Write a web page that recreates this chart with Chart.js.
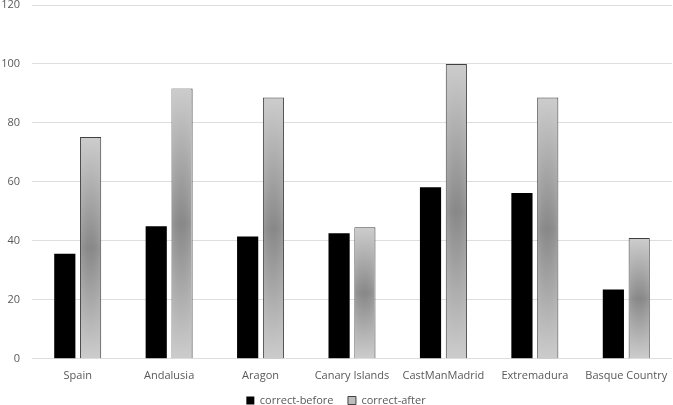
<!DOCTYPE html>
<html>
<head>
<meta charset="utf-8">
<script src="https://cdn.jsdelivr.net/npm/chart.js@4/dist/chart.umd.min.js"></script>
<style>
  html, body { margin: 0; padding: 0; background: #fff; }
  #wrap { width: 673px; height: 405px; }
</style>
</head>
<body>
<div id="wrap"><canvas id="chart"></canvas></div>
<script>
// данные
const regions = ['Spain', 'Andalusia', 'Aragon', 'Canary Islands', 'CastManMadrid', 'Extremadura', 'Basque Country'];
const correctBefore = [35.6, 45.0, 41.5, 42.6, 58.2, 56.2, 23.5];
const correctAfter  = [75.2, 91.7, 88.6, 44.6, 100, 88.6, 41.0];
const yTicks = [0, 20, 40, 60, 80, 100, 120];

const FONT = 'Open Sans';
const TEXT = '#595959';

// заливка "от центра к краям" для серых столбиков, как в Excel
function pathGradientImage(w, h) {
  const off = document.createElement('canvas');
  off.width = w; off.height = h;
  const g = off.getContext('2d');
  const img = g.createImageData(w, h);
  const edge = 204, center = 136;
  for (let j = 0; j < h; j++) {
    const dy = Math.abs(j + 0.5 - h / 2) / (h / 2);
    for (let i = 0; i < w; i++) {
      const dx = Math.abs(i + 0.5 - w / 2) / (w / 2);
      const t = Math.min(1, dy + 0.22 * dx * dx * (1 - dy));
      const v = Math.round(center + (edge - center) * t);
      const k = (j * w + i) * 4;
      img.data[k] = v; img.data[k + 1] = v; img.data[k + 2] = v; img.data[k + 3] = 255;
    }
  }
  g.putImageData(img, 0, 0);
  return off;
}

const shadePlugin = {
  id: 'shadeAfter',
  afterDatasetDraw(chart, args) {
    if (args.index !== 1) return;
    const bw = 1;
    const ctx = chart.ctx;
    args.meta.data.forEach(el => {
      const { x, y, base, width } = el.getProps(['x', 'y', 'base', 'width'], true);
      const left = Math.round(x - width / 2 + bw);
      const top = Math.round(y + bw);
      const w = Math.round(width - 2 * bw);
      const h = Math.round(base - y - bw);
      if (w <= 0 || h <= 0) return;
      ctx.drawImage(pathGradientImage(w, h), left, top, w, h);
    });
  },
};

new Chart(document.getElementById('chart'), {
  type: 'bar',
  data: {
    labels: regions,
    datasets: [
      {
        label: 'correct-before',
        data: correctBefore,
        backgroundColor: '#000000',
        borderWidth: 0,
        categoryPercentage: 0.565,
        barPercentage: 0.82,
      },
      {
        label: 'correct-after',
        data: correctAfter,
        backgroundColor: '#bdbdbd',
        borderColor: '#404040',
        borderWidth: 1,
        borderSkipped: 'start',
        categoryPercentage: 0.565,
        barPercentage: 0.82,
      },
    ],
  },
  options: {
    responsive: true,
    maintainAspectRatio: false,
    animation: false,
    layout: { padding: { top: 5, right: 1, left: 0, bottom: -11 } },
    plugins: {
      tooltip: { enabled: false },
      legend: {
        position: 'bottom',
        labels: {
          color: TEXT,
          font: { family: FONT, size: 11 },
          boxWidth: 8,
          boxHeight: 8,
          padding: 3,
          // лишний отступ между пунктами легенды, вертикаль не трогаем
          generateLabels: chart => {
            const items = Chart.defaults.plugins.legend.labels.generateLabels(chart);
            items.forEach((it, i) => { if (i < items.length - 1) it.text += '    '; });
            return items;
          },
        },
      },
    },
    scales: {
      x: {
        grid: { display: false, drawTicks: false },
        border: { display: false },
        ticks: { color: TEXT, font: { family: FONT, size: 11 }, padding: 10, maxRotation: 0 },
        afterFit: s => { s.paddingLeft = 0; s.paddingRight = 0; },
      },
      y: {
        min: 0,
        max: 120,
        afterBuildTicks: axis => { axis.ticks = yTicks.map(v => ({ value: v })); },
        grid: { color: '#dedede', lineWidth: 1, drawTicks: false },
        border: { display: false },
        ticks: { color: TEXT, font: { family: FONT, size: 11 }, padding: 12 },
        afterFit: s => { s.width = 32; s.paddingTop = 0; s.paddingBottom = 0; },
      },
    },
  },
  plugins: [shadePlugin],
});
</script>
</body>
</html>
